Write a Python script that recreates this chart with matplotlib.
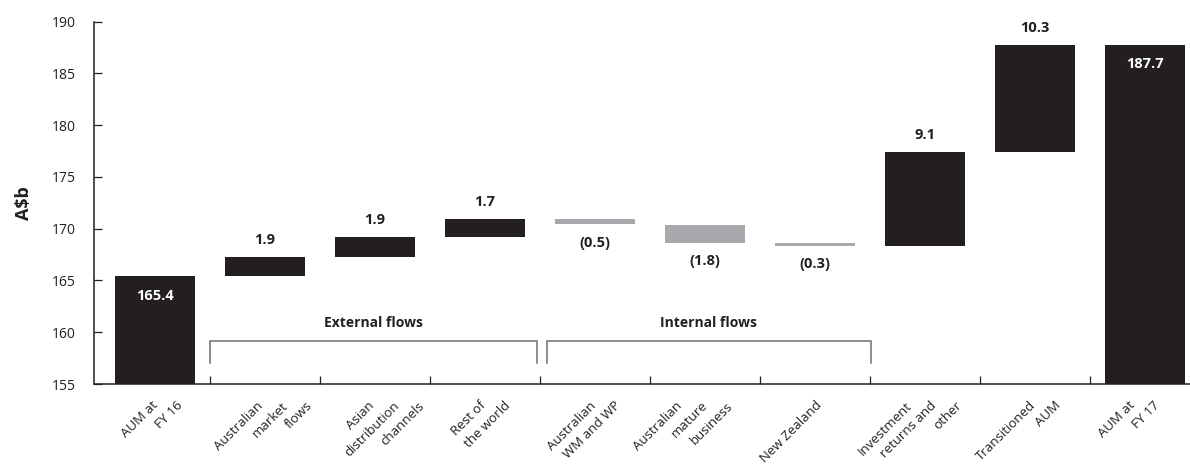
import matplotlib
matplotlib.use("Agg")
import matplotlib.pyplot as plt

# ---------------- dados (A$b) ----------------

categories = [
    "AUM at\nFY 16",
    "Australian\nmarket\nflows",
    "Asian\ndistribution\nchannels",
    "Rest of\nthe world",
    "Australian\nWM and WP",
    "Australian\nmature\nbusiness",
    "New Zealand",
    "Investment\nreturns and\nother",
    "Transitioned\nAUM",
    "AUM at\nFY 17",
]
aum_start = 165.4
flows = [1.9, 1.9, 1.7, -0.5, -1.8, -0.3, 9.1, 10.3]
aum_end = 187.7

groups = ["External flows", "Internal flows"]

yticks = [155, 160, 165, 170, 175, 180, 185, 190]

# ---------------- estilo ----------------

DARK = "#231f20"
GREY = "#a7a9ac"
BRACKET = "#6d6e71"
FONT = ["Open Sans", "DejaVu Sans"]
PX = 0.72  # pixels -> points a 100 dpi

plt.rcParams["font.family"] = FONT

# ajuste fino da posição dos rótulos do eixo x (px)
label_nudge = [-4, -9, -7, -6, -6, -29, 0, -20, -6, -17]
line_step = 25  # deslocamento horizontal entre linhas (px)

fig = plt.figure(figsize=(11.9, 4.68), dpi=100)
ax = fig.add_axes([94 / 1190, 1 - 384 / 468, 1 - 94 / 1190, (384 - 21.5) / 468])

W = 80 / 110

# barras de total
ax.bar(0, aum_start, width=W, color=DARK)
ax.bar(len(categories) - 1, aum_end, width=W, color=DARK)

ax.annotate(f"{aum_start:.1f}", xy=(0, aum_start), xytext=(0, -20 * PX),
            textcoords="offset points", ha="center", va="center",
            color="white", fontsize=10.5, fontweight="bold")
ax.annotate(f"{aum_end:.1f}", xy=(len(categories) - 1, aum_end), xytext=(0, -19 * PX),
            textcoords="offset points", ha="center", va="center",
            color="white", fontsize=10.5, fontweight="bold")

# barras flutuantes (cascata)
level = aum_start
for i, d in enumerate(flows, start=1):
    col = DARK if d >= 0 else GREY
    ax.bar(i, d, bottom=level, width=W, color=col)
    if d >= 0:
        ax.annotate(f"{d:.1f}", xy=(i, level + d), xytext=(0, 17 * PX),
                    textcoords="offset points", ha="center", va="center",
                    color=DARK, fontsize=10.5, fontweight="bold")
    else:
        ax.annotate(f"({abs(d):.1f})", xy=(i, level + d), xytext=(0, -18 * PX),
                    textcoords="offset points", ha="center", va="center",
                    color=DARK, fontsize=10.5, fontweight="bold")
    level += d

# colchetes dos grupos
spans = [(0.5, 3.47), (3.56, 6.51)]
y_lo, y_hi = 157.03, 159.15
for (x0, x1), name in zip(spans, groups):
    ax.plot([x0, x0, x1, x1], [y_lo, y_hi, y_hi, y_lo], color=BRACKET,
            lw=1.1, solid_joinstyle="miter")
    ax.text((x0 + x1) / 2, 160.9, name, ha="center", va="center",
            fontsize=10, fontweight="bold", color=DARK)

# eixos
ax.set_xlim(-0.555, 9.41)
ax.set_ylim(155, 190)
ax.set_yticks(yticks)
ax.set_xticks([i + 0.5 for i in range(len(categories) - 1)])
ax.set_xticklabels([])
ax.tick_params(axis="both", direction="in", length=8 * PX, width=0.9,
               color=DARK, labelcolor=DARK)
ax.tick_params(axis="y", labelsize=10, pad=18 * PX)
for s in ("top", "right"):
    ax.spines[s].set_visible(False)
for s in ("left", "bottom"):
    ax.spines[s].set_color(DARK)
    ax.spines[s].set_linewidth(1.1)

ax.text(-0.064, 0.5, "A$b", transform=ax.transAxes, rotation=90,
        ha="center", va="center", fontsize=13, fontweight="bold", color=DARK)

# rótulos das categorias, inclinados a 45°, uma linha de cada vez
xtr = ax.get_xaxis_transform()
for i, (lab, nudge) in enumerate(zip(categories, label_nudge)):
    for k, line in enumerate(lab.split("\n")):
        ax.annotate(line, xy=(i, 0), xycoords=xtr,
                    xytext=((nudge + k * line_step) * PX, -15 * PX),
                    textcoords="offset points", rotation=45,
                    rotation_mode="anchor", ha="right", va="top",
                    fontsize=9.5, color=DARK, annotation_clip=False)

fig.savefig("out.png", dpi=100)
